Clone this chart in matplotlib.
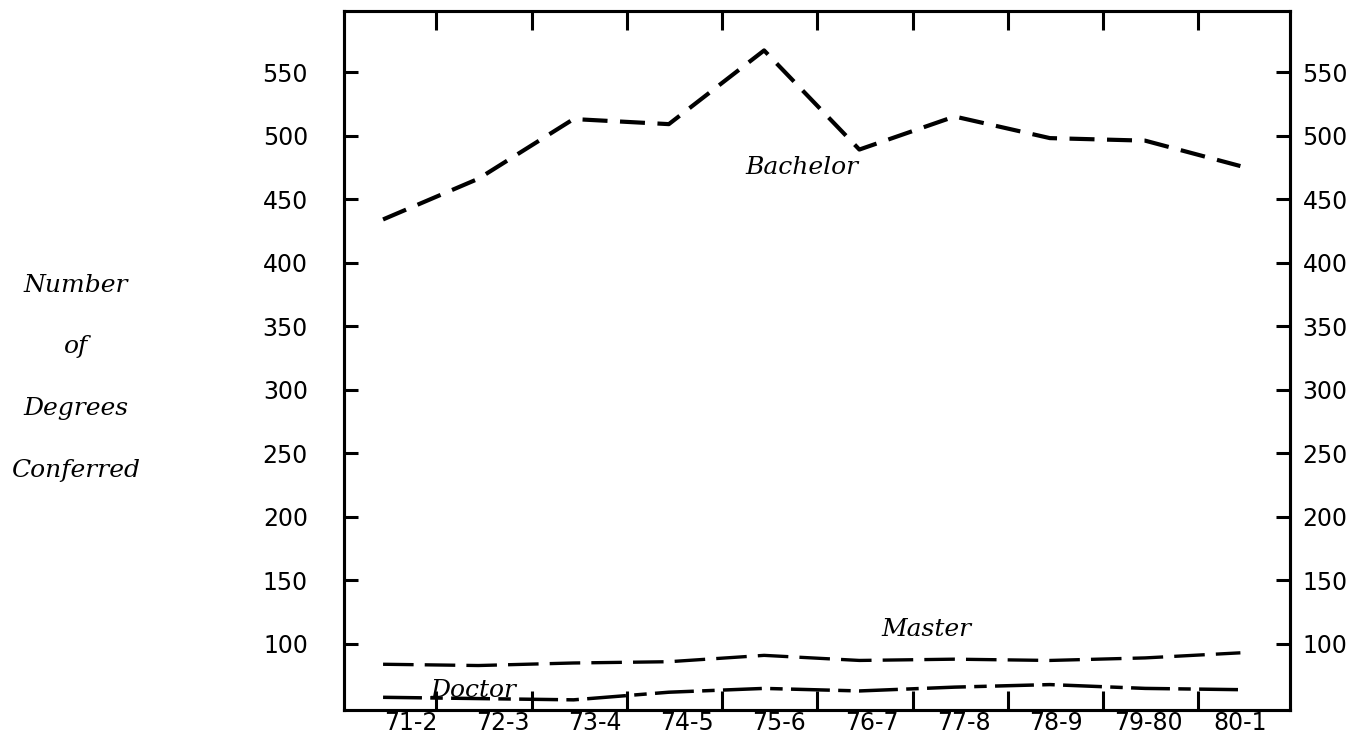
#####################################################################
# Importing packages

import matplotlib
matplotlib.use('Agg')
import matplotlib.pyplot as plt
import numpy

plt.rcParams['lines.scale_dashes'] = False

#####################################################################
# Data

years = ['71-2', '72-3', '73-4', '74-5', '75-6', '76-7', '77-8', '78-9', '79-80', '80-1']
bachelor = [434, 466, 513, 509, 567, 489, 515, 498, 496, 476]
master = [84, 83, 85, 86, 91, 87, 88, 87, 89, 93]
doctor = [58, 57, 56, 62, 65, 63, 66, 68, 65, 64]
y_ticks = [100, 150, 200, 250, 300, 350, 400, 450, 500, 550]

x = numpy.arange(len(years))

######################################################################
# Plotting the data

fig = plt.figure(figsize=(13.64, 7.35), dpi=100)
ax = fig.add_axes([0.2522, 0.034, 0.6935, 0.951])

ax.plot(x, bachelor, color='black', lw=3.0, linestyle=(0, (18, 9)))
ax.plot(x, master, color='black', lw=2.4, linestyle=(0, (22, 8)))
ax.plot(x, doctor, color='black', lw=2.5, linestyle=(0, (28, 6, 9, 6)))

ax.set_xlim(-0.41, 9.52)
ax.set_ylim(48, 598)

for s in ax.spines.values():
    s.set_linewidth(2.2)

# x: labels a bit right of the points, ticks at the year boundaries
ax.set_xticks(numpy.linspace(0.29, 9.0, len(years)))
ax.set_xticklabels(years, fontsize=17, family='DejaVu Sans')
ax.set_xticks(x[:-1] + 0.56, minor=True)
ax.tick_params(axis='x', which='major', length=0, pad=1)
ax.tick_params(axis='x', which='minor', direction='in', length=14, width=2.2,
               top=True, bottom=True)

# y: left labels with a wide gap, right labels close to the spine
ax.set_yticks(y_ticks)
ax.set_yticklabels([str(v) for v in y_ticks], fontsize=17, family='DejaVu Sans')
ax.tick_params(axis='y', direction='in', length=10, width=2.2, pad=26)

ax2 = ax.twinx()
ax2.set_ylim(ax.get_ylim())
ax2.set_yticks(y_ticks)
ax2.set_yticklabels([str(v) for v in y_ticks], fontsize=17, family='DejaVu Sans')
ax2.tick_params(axis='y', direction='in', length=10, width=2.2, pad=9)
for s in ax2.spines.values():
    s.set_linewidth(2.2)

######################################################################
# Series names and axis title

lab = dict(fontsize=18, style='italic', family='DejaVu Serif', ha='center', va='center')
ax.text(4.4, 475, 'Bachelor', **lab)
ax.text(5.7, 111, 'Master', **lab)
ax.text(0.95, 63, 'Doctor', **lab)

for txt, yy in zip(['Number', 'of', 'Degrees', 'Conferred'], [285, 347, 409, 470]):
    fig.text(76 / 1364, 1 - yy / 735, txt, **lab)

plt.savefig('out.png', dpi=100)
